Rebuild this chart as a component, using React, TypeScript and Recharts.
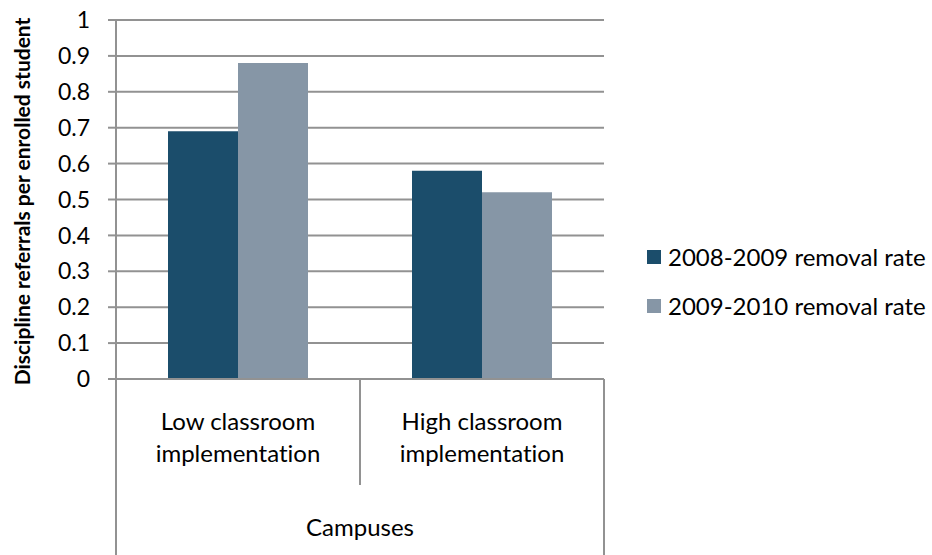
import React from 'react';
import { BarChart, Bar, XAxis, YAxis, CartesianGrid, Legend } from 'recharts';

const categories = ['Low classroom implementation', 'High classroom implementation'];
const categoryLines = [
  ['Low classroom', 'implementation'],
  ['High classroom', 'implementation'],
];
const groupLabel = 'Campuses';
const series2008 = [0.69, 0.58];
const series2009 = [0.88, 0.52];
const seriesNames = ['2008-2009 removal rate', '2009-2010 removal rate'];
const seriesColors = ['#1B4D6B', '#8696A6'];
const yTicks = [0, 0.1, 0.2, 0.3, 0.4, 0.5, 0.6, 0.7, 0.8, 0.9, 1];
const yTitle = 'Discipline referrals per enrolled student';

const data = categories.map((c, i) => ({ category: c, s1: series2008[i], s2: series2009[i] }));

const FONT = 'Lato, "Open Sans", sans-serif';
const GRID = '#929292';
const NOLIG = { fontVariantLigatures: 'none' as const };

const CategoryTick = (props: any) => {
  const { x, y, index, width, visibleTicksCount } = props;
  const count = visibleTicksCount || categories.length;
  const axisW = width || 488;
  const half = axisW / (2 * count);
  const lines = categoryLines[index] || [];
  const isLast = index === count - 1;
  const bottom = y + 176;
  return (
    <g>
      {lines.map((t: string, k: number) => (
        <text key={k} x={x} y={y + 51 + k * 32} textAnchor="middle" fontFamily={FONT} fontSize={24} fill="#000" style={NOLIG}>
          {t}
        </text>
      ))}
      <line x1={x + half} x2={x + half} y1={y} y2={isLast ? bottom : y + 106} stroke={GRID} strokeWidth={2} />
      {index === 0 && (
        <g>
          <line x1={x - half} x2={x - half} y1={y} y2={bottom} stroke={GRID} strokeWidth={2} />
          <text x={x - half + axisW / 2} y={y + 157} textAnchor="middle" fontFamily={FONT} fontSize={24} fill="#000" style={NOLIG}>
            {groupLabel}
          </text>
        </g>
      )}
    </g>
  );
};

const renderYTitle = (p: any) => {
  const vb = p.viewBox || { x: 0, y: 20, width: 116, height: 359 };
  const cx = vb.x + 21;
  const cy = vb.y + vb.height / 2 + 2;
  return (
    <text
      x={cx}
      y={cy}
      transform={`rotate(-90, ${cx}, ${cy})`}
      textAnchor="middle"
      dominantBaseline="central"
      fontFamily={FONT}
      fontWeight="bold"
      fontSize={21}
      fill="#000"
      style={NOLIG}
    >
      {yTitle}
    </text>
  );
};

const renderLegend = () => (
  <div style={{ fontFamily: FONT, fontSize: 24, color: '#000', fontVariantLigatures: 'none' }}>
    {seriesNames.map((n, i) => (
      <div key={n} style={{ display: 'flex', alignItems: 'center', height: 49, whiteSpace: 'nowrap' }}>
        <span style={{ display: 'inline-block', width: 14, height: 14, background: seriesColors[i], marginRight: 7 }} />
        <span>{n}</span>
      </div>
    ))}
  </div>
);

export default function App() {
  return (
    <div style={{ position: 'absolute', left: 0, top: 0, width: 932, height: 555, background: '#fff' }}>
      <BarChart
        width={932}
        height={555}
        data={data}
        margin={{ top: 20, right: 328, bottom: 0, left: 0 }}
        barGap={0}
        barSize={70}
      >
        <CartesianGrid vertical={false} stroke={GRID} strokeWidth={2} />
        <XAxis
          dataKey="category"
          height={176}
          interval={0}
          tickLine={false}
          tickSize={0}
          tickMargin={0}
          axisLine={{ stroke: GRID, strokeWidth: 2 }}
          tick={(p: any) => <CategoryTick {...p} />}
        />
        <YAxis
          width={116}
          domain={[0, 1]}
          ticks={yTicks}
          interval={0}
          tickSize={8}
          tickMargin={18}
          tickFormatter={(v: number) => String(v)}
          axisLine={{ stroke: GRID, strokeWidth: 2 }}
          tickLine={{ stroke: GRID, strokeWidth: 2 }}
          tick={{ fontFamily: FONT, fontSize: 23, fill: '#000' }}
          label={{ content: renderYTitle }}
        />
        <Legend
          layout="horizontal"
          align="center"
          verticalAlign="middle"
          content={renderLegend}
          wrapperStyle={{ left: 647, top: 232, width: 285 }}
        />
        <Bar dataKey="s1" name={seriesNames[0]} fill={seriesColors[0]} isAnimationActive={false} />
        <Bar dataKey="s2" name={seriesNames[1]} fill={seriesColors[1]} isAnimationActive={false} />
      </BarChart>
    </div>
  );
}
